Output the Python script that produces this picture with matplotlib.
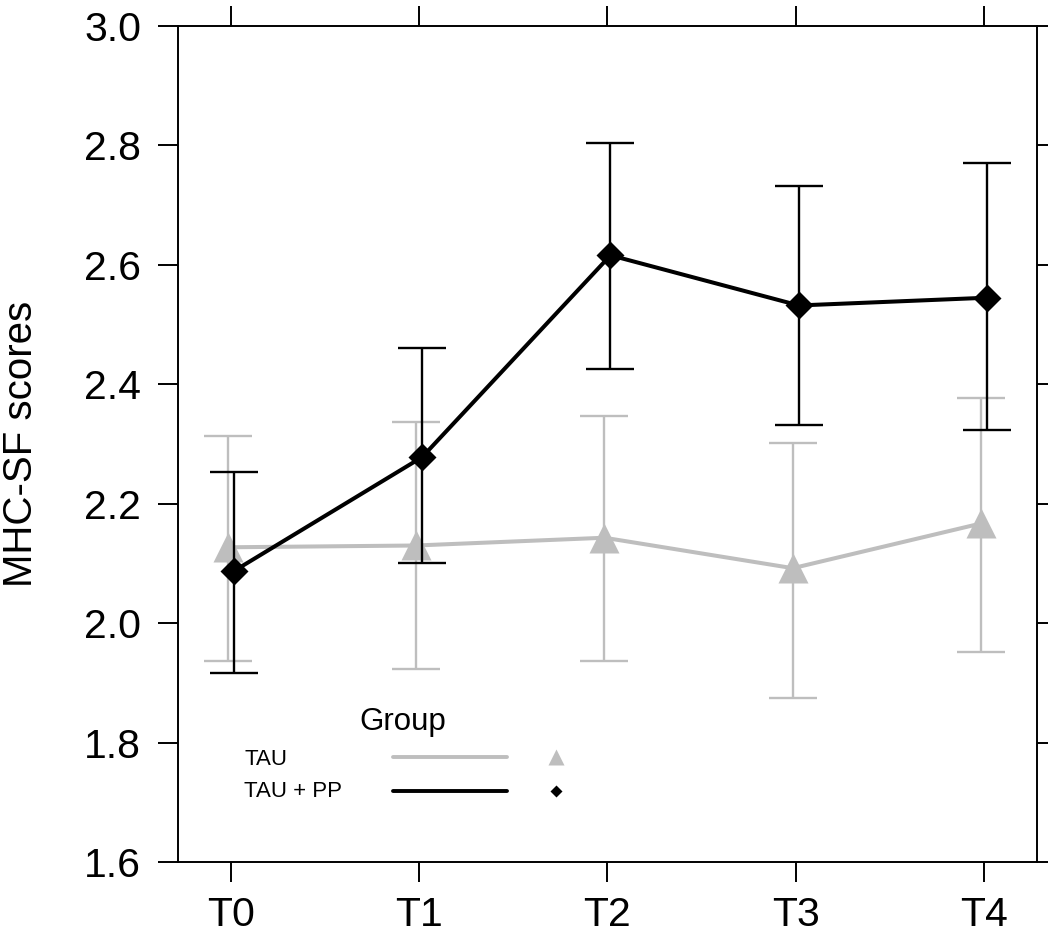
import matplotlib
matplotlib.use("Agg")
import matplotlib.pyplot as plt
import numpy as np

plt.rcParams['font.family'] = ['Liberation Sans', 'DejaVu Sans']

times = ['T0', 'T1', 'T2', 'T3', 'T4']

# TAU (grey triangles)
tau_mean = [2.127, 2.130, 2.143, 2.092, 2.167]
tau_low = [1.937, 1.923, 1.937, 1.875, 1.952]
tau_high = [2.313, 2.337, 2.347, 2.302, 2.377]

# TAU + PP (black diamonds)
pp_mean = [2.087, 2.278, 2.616, 2.532, 2.545]
pp_low = [1.917, 2.100, 2.426, 2.331, 2.324]
pp_high = [2.253, 2.460, 2.804, 2.732, 2.771]

grey = '#bebebe'
dodge = 0.016

fig = plt.figure(figsize=(10.48, 9.36), dpi=100)
ax = fig.add_axes([0.1698, 0.0791, 0.8197, 0.8931])

x = np.arange(len(times))

xt = x - dodge
m = np.array(tau_mean)
yerr = [m - np.array(tau_low), np.array(tau_high) - m]
ax.errorbar(xt, m, yerr=yerr, fmt='none', ecolor=grey, elinewidth=1.7,
            capsize=17.5, capthick=1.7, zorder=2)
ax.plot(xt, m, '-', color=grey, lw=2.9, zorder=3)
ax.plot(xt, m, '^', color=grey, ms=21, mec='none', zorder=4)

xp = x + dodge
m = np.array(pp_mean)
yerr = [m - np.array(pp_low), np.array(pp_high) - m]
ax.errorbar(xp, m, yerr=yerr, fmt='none', ecolor='black', elinewidth=1.7,
            capsize=17.5, capthick=1.7, zorder=5)
ax.plot(xp, m, '-', color='black', lw=2.9, zorder=6)
ax.plot(xp, m, 'D', color='black', ms=14, mec='none', zorder=7)

ax.set_xlim(-0.28, 4.28)
ax.set_ylim(1.6, 3.0)
ax.set_xticks(x)
ax.set_xticklabels(times)
ax.set_yticks(np.arange(1.6, 3.01, 0.2))
ax.set_yticklabels(['%.1f' % v for v in np.arange(1.6, 3.01, 0.2)])

ax.tick_params(axis='both', which='both', direction='out', length=14.5,
               width=1.4, labelsize=29.5, top=True, right=True,
               labeltop=False, labelright=False, color='black')
ax.tick_params(axis='x', pad=10)
ax.tick_params(axis='y', pad=12)
for s in ax.spines.values():
    s.set_linewidth(1.4)

ax.set_ylabel('MHC-SF scores', fontsize=29)
ax.yaxis.set_label_coords(-0.161, 0.5)

# legend drawn in lattice style
tr = ax.transAxes
ax.text(0.262, 0.168, 'Group', transform=tr, fontsize=22.5, ha='center', va='center')
ax.text(0.077, 0.123, 'TAU', transform=tr, fontsize=16, ha='left', va='center')
ax.text(0.077, 0.084, 'TAU + PP', transform=tr, fontsize=16, ha='left', va='center')
ax.plot([0.250, 0.383], [0.125, 0.125], transform=tr, color=grey, lw=2.8,
        solid_capstyle='round')
ax.plot([0.250, 0.383], [0.085, 0.085], transform=tr, color='black', lw=2.8,
        solid_capstyle='round')
ax.plot([0.440], [0.126], '^', transform=tr, color=grey, ms=11, mec='none')
ax.plot([0.440], [0.085], 'D', transform=tr, color='black', ms=6.5, mec='none')

fig.savefig('out.png', dpi=100)
